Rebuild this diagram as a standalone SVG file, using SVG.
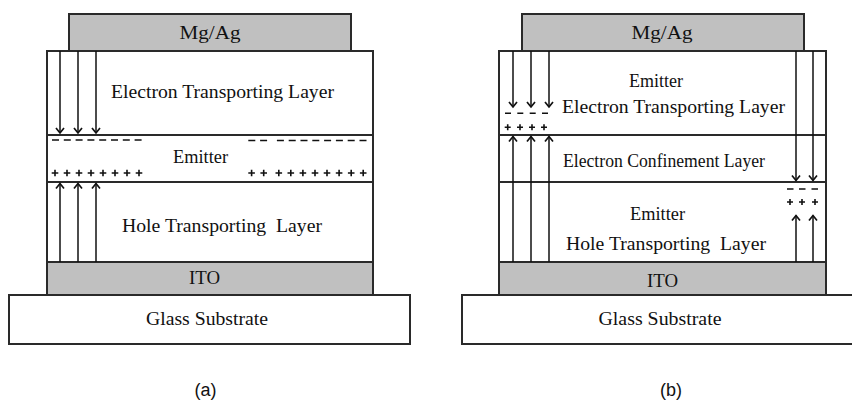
<svg xmlns="http://www.w3.org/2000/svg" width="852" height="403" viewBox="0 0 852 403">
  <style>
    .layer { fill: #ffffff; stroke: #2a2a2a; stroke-width: 2; }
    .metal { fill: #c0c0c0; stroke: #2a2a2a; stroke-width: 2; }
    .lbl { font-family: "Liberation Serif", "Times New Roman", serif; font-size: 19px; fill: #111111; text-anchor: middle; }
    .cap { font-family: "Liberation Sans", Arial, sans-serif; font-size: 18px; fill: #111111; text-anchor: middle; }
    .carrier { fill: none; stroke: #111111; stroke-width: 1.5; }
    .charge { fill: none; stroke: #111111; stroke-width: 1.6; }
  </style>
  <defs>
    <marker id="head" markerUnits="userSpaceOnUse" markerWidth="12" markerHeight="12" viewBox="-7 -6 12 12" refX="0" refY="0" orient="auto" overflow="visible">
      <path d="M-5,-4 L0,0 L-5,4" fill="none" stroke="#111111" stroke-width="1.7"/>
    </marker>
  </defs>

  <!-- Device (a): single emitter between ETL and HTL -->
  <g id="device-a">
    <g id="a-cathode">
      <rect class="metal" x="69" y="14" width="282" height="37"/>
      <text class="lbl" x="210" y="39" font-size="20" textLength="61" lengthAdjust="spacingAndGlyphs">Mg/Ag</text>
    </g>
    <g id="a-etl">
      <rect class="layer" x="47" y="51" width="326" height="84"/>
      <text class="lbl" x="222.5" y="98" textLength="223" lengthAdjust="spacingAndGlyphs">Electron Transporting Layer</text>
    </g>
    <g id="a-emitter">
      <rect class="layer" x="47" y="135" width="326" height="47"/>
      <text class="lbl" x="200.5" y="163" textLength="55" lengthAdjust="spacingAndGlyphs">Emitter</text>
    </g>
    <g id="a-htl">
      <rect class="layer" x="47" y="182" width="326" height="80"/>
      <text class="lbl" x="222" y="232" textLength="200" lengthAdjust="spacingAndGlyphs" xml:space="preserve">Hole Transporting  Layer</text>
    </g>
    <g id="a-ito">
      <rect class="metal" x="47" y="262" width="326" height="33"/>
      <text class="lbl" x="204.5" y="284" textLength="31" lengthAdjust="spacingAndGlyphs">ITO</text>
    </g>
    <g id="a-glass">
      <rect class="layer" x="9" y="295" width="401" height="49"/>
      <text class="lbl" x="207" y="325" textLength="122" lengthAdjust="spacingAndGlyphs">Glass Substrate</text>
    </g>
    <text id="a-caption" class="cap" x="205.5" y="396">(a)</text>
  </g>

  <!-- Device (b): emitters on both sides of the confinement layer -->
  <g id="device-b">
    <g id="b-cathode">
      <rect class="metal" x="522" y="14" width="282" height="37"/>
      <text class="lbl" x="662" y="39" font-size="20" textLength="61" lengthAdjust="spacingAndGlyphs">Mg/Ag</text>
    </g>
    <g id="b-etl">
      <rect class="layer" x="499" y="51" width="327" height="84"/>
      <text class="lbl" x="656" y="87" textLength="54" lengthAdjust="spacingAndGlyphs">Emitter</text>
      <text class="lbl" x="673.5" y="113" textLength="223" lengthAdjust="spacingAndGlyphs">Electron Transporting Layer</text>
    </g>
    <g id="b-ecl">
      <rect class="layer" x="499" y="135" width="327" height="47"/>
      <text class="lbl" x="664" y="167" textLength="202" lengthAdjust="spacingAndGlyphs">Electron Confinement Layer</text>
    </g>
    <g id="b-htl">
      <rect class="layer" x="499" y="182" width="327" height="80"/>
      <text class="lbl" x="657.5" y="220" textLength="55" lengthAdjust="spacingAndGlyphs">Emitter</text>
      <text class="lbl" x="666" y="249.5" textLength="200" lengthAdjust="spacingAndGlyphs" xml:space="preserve">Hole Transporting  Layer</text>
    </g>
    <g id="b-ito">
      <rect class="metal" x="499" y="262" width="327" height="33"/>
      <text class="lbl" x="662.5" y="287" textLength="31" lengthAdjust="spacingAndGlyphs">ITO</text>
    </g>
    <g id="b-glass">
      <rect class="layer" x="462" y="295" width="402" height="49"/>
      <text class="lbl" x="660" y="325" textLength="123" lengthAdjust="spacingAndGlyphs">Glass Substrate</text>
    </g>
    <text id="b-caption" class="cap" x="671" y="396">(b)</text>
  </g>

  <!-- Carrier injection arrows -->
  <g id="connectors">
    <!-- (a) electrons down from cathode, holes up from anode -->
    <path class="carrier" marker-end="url(#head)" d="M60,51 V133"/>
    <path class="carrier" marker-end="url(#head)" d="M78,51 V133"/>
    <path class="carrier" marker-end="url(#head)" d="M96,51 V133"/>
    <path class="carrier" marker-end="url(#head)" d="M60,262 V183.5"/>
    <path class="carrier" marker-end="url(#head)" d="M78,262 V183.5"/>
    <path class="carrier" marker-end="url(#head)" d="M96,262 V183.5"/>
    <!-- (b) left: electrons stop in ETL, holes cross the ECL -->
    <path class="carrier" marker-end="url(#head)" d="M513,51 V107"/>
    <path class="carrier" marker-end="url(#head)" d="M531,51 V107"/>
    <path class="carrier" marker-end="url(#head)" d="M549,51 V107"/>
    <path class="carrier" marker-end="url(#head)" d="M513,262 V136.5"/>
    <path class="carrier" marker-end="url(#head)" d="M531,262 V136.5"/>
    <path class="carrier" marker-end="url(#head)" d="M549,262 V136.5"/>
    <!-- (b) right: electrons cross the ECL, holes stay in HTL -->
    <path class="carrier" marker-end="url(#head)" d="M796,51 V180.5"/>
    <path class="carrier" marker-end="url(#head)" d="M813,51 V180.5"/>
    <path class="carrier" marker-end="url(#head)" d="M796,262 V215.5"/>
    <path class="carrier" marker-end="url(#head)" d="M813,262 V215.5"/>
  </g>

  <!-- Accumulated charges -->
  <g id="charges">
    <!-- (a) electrons -->
    <path class="charge" d="M52,140h7 M63.8,140h7 M75.6,140h7 M87.4,140h7 M99.2,140h7 M111,140h7 M122.8,140h7 M134.6,140h7"/>
    <path class="charge" d="M248.3,140.5h7 M260.1,140.5h7 M276.9,140.5h7 M288.7,140.5h7 M300.5,140.5h7 M312.3,140.5h7 M324.1,140.5h7 M335.9,140.5h7 M347.7,140.5h7 M359.5,140.5h7"/>
    <!-- (a) holes -->
    <path class="charge" d="M51.7,173h6.6 M55,169.7v6.6 M63.7,173h6.6 M67,169.7v6.6 M75.7,173h6.6 M79,169.7v6.6 M87.7,173h6.6 M91,169.7v6.6 M99.7,173h6.6 M103,169.7v6.6 M111.7,173h6.6 M115,169.7v6.6 M123.7,173h6.6 M127,169.7v6.6 M135.7,173h6.6 M139,169.7v6.6"/>
    <path class="charge" d="M248.3,173h6.6 M251.6,169.7v6.6 M260.4,173h6.6 M263.7,169.7v6.6 M275.5,173h6.6 M278.8,169.7v6.6 M287.5,173h6.6 M290.8,169.7v6.6 M299.6,173h6.6 M302.9,169.7v6.6 M311.7,173h6.6 M315,169.7v6.6 M323.7,173h6.6 M327,169.7v6.6 M335.8,173h6.6 M339.1,169.7v6.6 M347.9,173h6.6 M351.2,169.7v6.6 M359.9,173h6.6 M363.2,169.7v6.6"/>
    <!-- (b) left -->
    <path class="charge" d="M505,113.3h6 M517.3,113.3h6 M529.7,113.3h6 M542,113.3h6"/>
    <path class="charge" d="M504.7,127.3h6 M507.7,124.3v6 M517,127.3h6 M520,124.3v6 M529,127.3h6 M532,124.3v6 M541,127.3h6 M544,124.3v6"/>
    <!-- (b) right -->
    <path class="charge" d="M787,189h6.5 M799,189h6.5 M811.5,189h6.5"/>
    <path class="charge" d="M787,202h6 M790,199v6 M799,202h6 M802,199v6 M812,202h6 M815,199v6"/>
  </g>
</svg>
